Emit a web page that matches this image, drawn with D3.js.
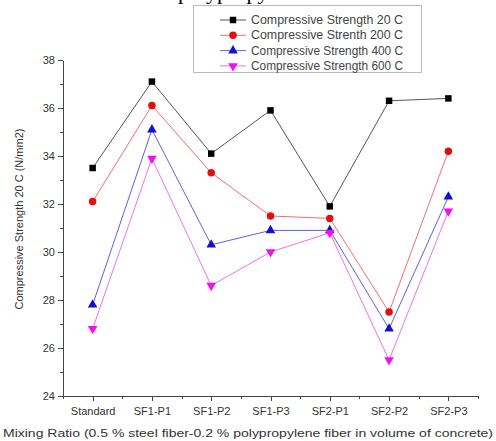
<!DOCTYPE html>
<meta charset="utf-8">
<style>
body { margin: 0; background: #fff; }
svg { display: block; }
.axis path, .axis line { stroke: #444; shape-rendering: crispEdges; }
.axis text { font-family: "Liberation Sans", Arial, sans-serif; font-size: 11px; fill: #333; }
.label { font-family: "Liberation Sans", Arial, sans-serif; font-size: 11px; fill: #333; }
.legend text { font-family: "Liberation Sans", Arial, sans-serif; font-size: 12px; fill: #444; }
.caption { font-family: "Liberation Serif", "Times New Roman", serif; font-size: 22px; fill: #000; }
</style>
<svg width="496" height="441"></svg>
<script src="https://cdn.jsdelivr.net/npm/d3@7"></script>
<script>

var categories = ["Standard", "SF1-P1", "SF1-P2", "SF1-P3", "SF2-P1", "SF2-P2", "SF2-P3"];
var seriesNames = ["Compressive Strength 20 C", "Compressive Strenth 200 C",
                   "Compressive Strength 400 C", "Compressive Strength 600 C"];
var s20  = [33.5, 37.1, 34.1, 35.9, 31.9, 36.3, 36.4];
var s200 = [32.1, 36.1, 33.3, 31.5, 31.4, 27.5, 34.2];
var s400 = [27.8, 35.1, 30.3, 30.9, 30.9, 26.8, 32.3];
var s600 = [26.8, 33.9, 28.6, 30.0, 30.8, 25.5, 31.7];
var yTicks = [24, 26, 28, 30, 32, 34, 36, 38];

var svg = d3.select("svg");

var colors = ["#000000", "#e01010", "#1010d0", "#f010f0"];
var lineColors = ["#555", "#f07070", "#6060e0", "#f070f0"];
var symbols = [d3.symbolSquare, d3.symbolCircle, d3.symbolTriangle, d3.symbolTriangle];
var symSize = [42, 44, 40, 40];
var symRot = [0, 0, 0, 180];

var x = d3.scaleLinear().domain([-0.5, categories.length - 0.5]).range([63, 478]);
var y = d3.scaleLinear().domain([24, 38]).range([396, 60]);

// caption line from the page above, only its lower edge shows
svg.append("text")
    .attr("class", "caption")
    .attr("x", 178)
    .attr("y", -1)
    .text("polypropylene fiber in concrete");

// y axis
svg.append("g")
    .attr("class", "axis")
    .attr("transform", "translate(63,0)")
    .call(d3.axisLeft(y).tickValues(d3.range(25, 38, 2)).tickSize(3).tickFormat(""))
    .call(function(g) { g.select(".domain").remove(); });

svg.append("g")
    .attr("class", "axis")
    .attr("transform", "translate(63,0)")
    .call(d3.axisLeft(y).tickValues(yTicks).tickSize(5).tickSizeOuter(0).tickPadding(3));

// x axis
var minor = d3.range(0, categories.length).map(function(i) { return i + 0.5; });
minor.unshift(-0.5);
svg.append("g")
    .attr("class", "axis")
    .attr("transform", "translate(0,396)")
    .call(d3.axisBottom(x).tickValues(minor).tickSize(3).tickFormat(""))
    .call(function(g) { g.select(".domain").remove(); });

svg.append("g")
    .attr("class", "axis")
    .attr("transform", "translate(0,396)")
    .call(d3.axisBottom(x).tickValues(d3.range(categories.length))
      .tickFormat(function(i) { return categories[i]; })
      .tickSize(5).tickSizeOuter(0).tickPadding(6));

// axis titles
svg.append("text")
    .attr("class", "label")
    .attr("transform", "translate(23,219) rotate(-90)")
    .attr("text-anchor", "middle")
    .attr("font-size", "9.6px")
    .text("Compressive Strength 20 C (N/mm2)");

svg.append("text")
    .attr("class", "label")
    .attr("x", 248)
    .attr("y", 437)
    .attr("text-anchor", "middle")
    .attr("textLength", 490)
    .attr("lengthAdjust", "spacingAndGlyphs")
    .text("Mixing Ratio (0.5 % steel fiber-0.2 % polypropylene fiber in volume of concrete)");

// series
var data = [s20, s200, s400, s600];
var line = d3.line()
    .x(function(d, i) { return x(i); })
    .y(function(d) { return y(d); });

data.forEach(function(vals, k) {
  svg.append("path")
      .datum(vals)
      .attr("fill", "none")
      .attr("stroke", lineColors[k])
      .attr("stroke-width", 1)
      .attr("d", line);
});

data.forEach(function(vals, k) {
  svg.append("g")
    .selectAll("path")
    .data(vals)
    .enter().append("path")
      .attr("d", d3.symbol().type(symbols[k]).size(symSize[k]))
      .attr("transform", function(d, i) {
        return "translate(" + x(i) + "," + y(d) + ") rotate(" + symRot[k] + ")";
      })
      .attr("fill", colors[k]);
});

// legend
var legend = svg.append("g").attr("class", "legend");
legend.append("rect")
    .attr("x", 193.5).attr("y", 5.5)
    .attr("width", 228).attr("height", 67)
    .attr("fill", "#fff")
    .attr("stroke", "#bbb");

seriesNames.forEach(function(name, k) {
  var ly = 20 + k * 15.3;
  legend.append("line")
      .attr("x1", 220).attr("x2", 246)
      .attr("y1", ly).attr("y2", ly)
      .attr("stroke", lineColors[k]);
  legend.append("path")
      .attr("d", d3.symbol().type(symbols[k]).size(symSize[k]))
      .attr("transform", "translate(233," + ly + ") rotate(" + symRot[k] + ")")
      .attr("fill", colors[k]);
  legend.append("text")
      .attr("x", 251)
      .attr("y", ly + 4)
      .attr("textLength", 152)
      .attr("lengthAdjust", "spacingAndGlyphs")
      .text(name);
});

</script>
